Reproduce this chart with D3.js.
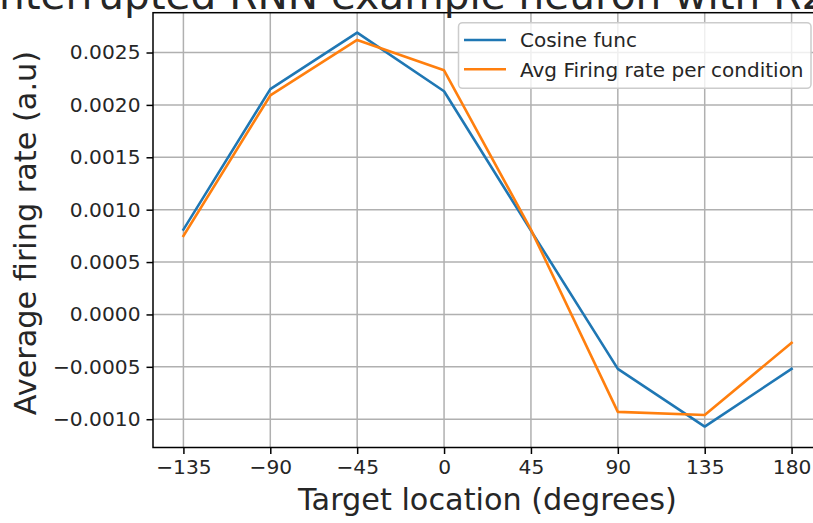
<!DOCTYPE html>
<html>
<head>
<meta charset="utf-8">
<script src="https://cdn.jsdelivr.net/npm/d3@7/dist/d3.min.js"></script>
<style>
  html, body { margin: 0; padding: 0; background: #ffffff; }
  svg { display: block; font-family: "DejaVu Sans", sans-serif; }
</style>
</head>
<body>
<svg id="chart" width="813" height="523"></svg>
<script>
// Target directions (degrees)
const angles = [-135, -90, -45, 0, 45, 90, 135, 180];
// Fitted cosine tuning curve
const cosineFunc = [0.00081, 0.00215, 0.00269, 0.00213, 0.00080, -0.00052, -0.00107, -0.00052];
// Mean firing rate for each target condition
const avgFiring = [0.00075, 0.00209, 0.00262, 0.00233, 0.00081, -0.00093, -0.00096, -0.00027];
// Tick values
const xTicks = [-135, -90, -45, 0, 45, 90, 135, 180];
const yTicks = [-0.0010, -0.0005, 0.0000, 0.0005, 0.0010, 0.0015, 0.0020, 0.0025];

const seriesNames = ["Cosine func", "Avg Firing rate per condition"];
const seriesColors = ["#1f77b4", "#ff7f0e"];

const svg = d3.select("#chart");
const plot = { left: 153, right: 822, top: 12.7, bottom: 447.5 };

const x = d3.scaleLinear().domain([-150.75, 195.75]).range([plot.left, plot.right]);
const y = d3.scaleLinear().domain([-0.00127, 0.00288]).range([plot.bottom, plot.top]);

const minus = s => s.replace("-", "\u2212");
const fmtY = v => minus(d3.format(".4f")(v));
const fmtX = v => minus(String(v));

// Grid lines
const grid = svg.append("g");
grid.selectAll("line.gx").data(xTicks).join("line")
  .attr("x1", d => x(d)).attr("x2", d => x(d))
  .attr("y1", plot.top).attr("y2", plot.bottom)
  .attr("stroke", "#b0b0b0").attr("stroke-width", 1.5);
grid.selectAll("line.gy").data(yTicks).join("line")
  .attr("x1", plot.left).attr("x2", plot.right)
  .attr("y1", d => y(d)).attr("y2", d => y(d))
  .attr("stroke", "#b0b0b0").attr("stroke-width", 1.5);

// Data lines
const line = d3.line().x((d, i) => x(angles[i])).y(d => y(d));
[cosineFunc, avgFiring].forEach((vals, k) => {
  svg.append("path").datum(vals)
    .attr("d", line)
    .attr("fill", "none")
    .attr("stroke", seriesColors[k])
    .attr("stroke-width", 2.6)
    .attr("stroke-linejoin", "round")
    .attr("stroke-linecap", "square");
});

// Spines
svg.append("rect")
  .attr("x", plot.left).attr("y", plot.top)
  .attr("width", plot.right - plot.left).attr("height", plot.bottom - plot.top)
  .attr("fill", "none").attr("stroke", "#000").attr("stroke-width", 1.5);

// Axes
const xAxis = d3.axisBottom(x).tickValues(xTicks).tickFormat(fmtX).tickSize(6.5).tickPadding(6);
const yAxis = d3.axisLeft(y).tickValues(yTicks).tickFormat(fmtY).tickSize(6.5).tickPadding(6);

const gx = svg.append("g").attr("transform", `translate(0,${plot.bottom})`).call(xAxis);
const gy = svg.append("g").attr("transform", `translate(${plot.left},0)`).call(yAxis);
[gx, gy].forEach(g => {
  g.select(".domain").remove();
  g.selectAll(".tick line").attr("stroke", "#000").attr("stroke-width", 1.5);
  g.selectAll(".tick text").attr("fill", "#262626")
    .style("font-family", "DejaVu Sans").style("font-size", "20.2px");
});

// Axis labels
svg.append("text")
  .attr("x", (plot.left + plot.right) / 2).attr("y", 510)
  .attr("text-anchor", "middle")
  .attr("fill", "#262626")
  .style("font-size", "30.3px")
  .text("Target location (degrees)");

svg.append("text")
  .attr("transform", `translate(36,${(plot.top + plot.bottom) / 2 + 3}) rotate(-90)`)
  .attr("text-anchor", "middle")
  .attr("fill", "#262626")
  .style("font-size", "30.3px")
  .text("Average firing rate (a.u)");

// Title (runs past the top edge)
svg.append("text")
  .attr("x", -13).attr("y", 9)
  .attr("text-anchor", "start")
  .attr("fill", "#262626")
  .style("font-size", "40.6px")
  .text("Interrupted RNN example neuron with R2 = 0.98");

// Legend
const lg = svg.append("g");
lg.append("rect")
  .attr("x", 458.5).attr("y", 22.7)
  .attr("width", 811 - 458.5).attr("height", 88.3 - 22.7)
  .attr("rx", 4).attr("ry", 4)
  .attr("fill", "#ffffff").attr("fill-opacity", 0.8)
  .attr("stroke", "#cccccc").attr("stroke-width", 1.5);
const rowsY = [40, 69.3];
seriesNames.forEach((name, k) => {
  lg.append("line")
    .attr("x1", 464).attr("x2", 506)
    .attr("y1", rowsY[k]).attr("y2", rowsY[k])
    .attr("stroke", seriesColors[k]).attr("stroke-width", 2.6);
  lg.append("text")
    .attr("x", 520).attr("y", rowsY[k])
    .attr("dy", "0.36em")
    .attr("fill", "#262626")
    .style("font-size", "20px")
    .text(name);
});
</script>
</body>
</html>
